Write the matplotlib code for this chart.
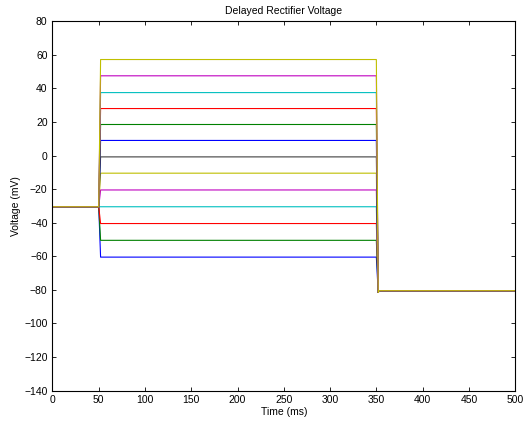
import matplotlib
matplotlib.use('Agg')
import matplotlib.pyplot as plt

# step levels during the 50-350 ms command pulse (mV), plotted bottom to top
step_levels = [-60.5, -50.5, -40.5, -30.5, -20.5, -10.5, -0.8, 9.0, 18.5, 28.0, 37.5, 47.5, 57.2]
holding_v = -30.5
tail_v = -80.5
tail_dip = -81.5

# key times of each trace (ms)
times = [0, 50, 52, 350, 352, 353, 500]

# old MATLAB line colour order
line_colors = [(0, 0, 1), (0, 0.5, 0), (1, 0, 0), (0, 0.75, 0.75),
               (0.75, 0, 0.75), (0.75, 0.75, 0), (0.25, 0.25, 0.25)]

x_ticks = [0, 50, 100, 150, 200, 250, 300, 350, 400, 450, 500]
y_ticks = [-140, -120, -100, -80, -60, -40, -20, 0, 20, 40, 60, 80]

plt.rcParams['font.family'] = ['Liberation Sans', 'DejaVu Sans']

fig = plt.figure(figsize=(5.3, 4.25), dpi=100)
ax = fig.add_axes([0.099, 0.081, 0.873, 0.869])

for i, level in enumerate(step_levels):
    volts = [holding_v, holding_v, level, level, tail_dip, tail_v, tail_v]
    ax.plot(times, volts, color=line_colors[i % len(line_colors)], linewidth=0.8)

ax.set_xlim(0, 500)
ax.set_ylim(-140, 80)
ax.set_xticks(x_ticks)
ax.set_yticks(y_ticks)
ax.tick_params(direction='in', top=True, right=True, labelsize=7.5, length=3, width=0.6)
for spine in ax.spines.values():
    spine.set_linewidth(0.8)

ax.set_title('Delayed Rectifier Voltage', fontsize=7.5, pad=5)
ax.set_xlabel('Time (ms)', fontsize=7.5, labelpad=1)
ax.set_ylabel('Voltage (mV)', fontsize=7.5, labelpad=2)

fig.savefig('out.png', dpi=100)
